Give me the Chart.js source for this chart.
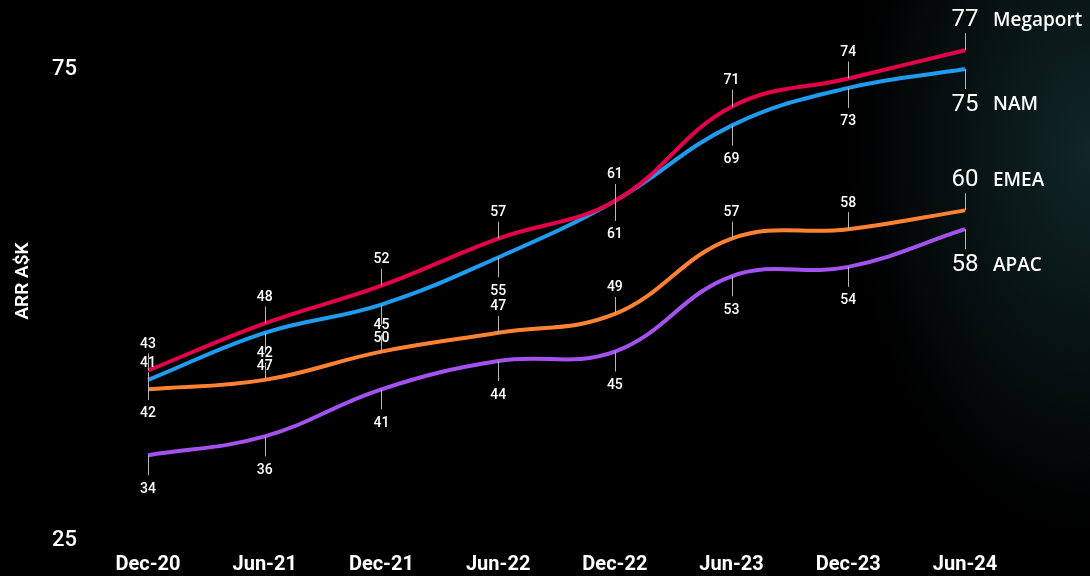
<!DOCTYPE html>
<html>
<head>
<meta charset="utf-8">
<script src="https://cdn.jsdelivr.net/npm/chart.js@4"></script>
<style>
  html, body { margin: 0; padding: 0; }
  body {
    width: 1090px; height: 576px; overflow: hidden;
    background: #000;
    background-image: radial-gradient(ellipse 240px 380px at 1090px 150px, rgba(22, 54, 56, 0.7), rgba(0, 0, 0, 0) 100%);
  }
  #wrap { position: relative; width: 1090px; height: 576px; }
</style>
</head>
<body>
<div id="wrap"><canvas id="myChart" width="1090" height="576"></canvas></div>
<script>
var periods = ['Dec-20', 'Jun-21', 'Dec-21', 'Jun-22', 'Dec-22', 'Jun-23', 'Dec-23', 'Jun-24'];
var megaport = [43, 48, 52, 57, 61, 71, 74, 77];
var nam = [42, 47, 50, 55, 61, 69, 73, 75];
var emea = [41, 42, 45, 47, 49, 57, 58, 60];
var apac = [34, 36, 41, 44, 45, 53, 54, 58];
var yTicks = [25, 75];

// label placement for each series: above or below the line
var seriesLabels = [
    { name: 'Megaport', side: 'above' },
    { name: 'NAM', side: 'below' },
    { name: 'EMEA', side: 'above' },
    { name: 'APAC', side: 'below' }
];

var pointLabels = {
    id: 'pointLabels',
    afterDatasetsDraw: function (chart) {
        var ctx = chart.ctx;
        ctx.save();
        chart.data.datasets.forEach(function (ds, i) {
            var meta = chart.getDatasetMeta(i);
            var side = seriesLabels[i].side;
            meta.data.forEach(function (pt, j) {
                var last = j === meta.data.length - 1;
                var x = pt.x, y = pt.y;
                var tickLen = side === 'above' ? 17 : 20;
                var off = last ? (side === 'above' ? 30 : 36) : (side === 'above' ? 26 : 34);
                // small tick line
                ctx.strokeStyle = '#b5b5b5';
                ctx.lineWidth = 1;
                ctx.beginPath();
                ctx.moveTo(Math.round(x) + 0.5, y);
                ctx.lineTo(Math.round(x) + 0.5, side === 'above' ? y - tickLen : y + tickLen);
                ctx.stroke();
                var ty = side === 'above' ? y - off : y + off;
                ctx.fillStyle = '#ffffff';
                ctx.textAlign = 'center';
                ctx.textBaseline = 'middle';
                if (last) {
                    ctx.font = '400 24px Roboto';
                    ctx.fillText(ds.data[j], x, ty);
                    ctx.textAlign = 'left';
                    ctx.font = '600 19px "Open Sans"';
                    ctx.fillText(seriesLabels[i].name, 993, ty);
                } else {
                    ctx.font = '500 14px Roboto';
                    ctx.fillText(ds.data[j], x, ty);
                }
            });
        });
        ctx.restore();
    }
};

var ctx = document.getElementById('myChart').getContext('2d');
var chart = new Chart(ctx, {
    type: 'line',
    data: {
        labels: periods,
        datasets: [
            { label: 'Megaport', data: megaport, borderColor: '#e5004a' },
            { label: 'NAM', data: nam, borderColor: '#1f9cf0' },
            { label: 'EMEA', data: emea, borderColor: '#ff8233' },
            { label: 'APAC', data: apac, borderColor: '#a352f0' }
        ]
    },
    options: {
        responsive: false,
        animation: false,
        layout: { padding: { top: 22, right: 125, left: 0, bottom: 0 } },
        elements: {
            line: { borderWidth: 4, tension: 0.4, fill: false },
            point: { radius: 0, hoverRadius: 0 }
        },
        plugins: {
            legend: { display: false },
            tooltip: { enabled: false }
        },
        scales: {
            x: {
                offset: false,
                grid: { display: false },
                border: { display: false },
                ticks: {
                    color: '#ffffff',
                    font: { family: 'Roboto', size: 20, weight: 'bold' },
                    padding: 5,
                    maxRotation: 0
                },
                afterFit: function (scale) {
                    scale.height = 36;
                    scale.paddingLeft = 0;
                    scale.paddingRight = 0;
                }
            },
            y: {
                min: 25,
                max: 80,
                grid: { display: false },
                border: { display: false },
                afterBuildTicks: function (scale) {
                    scale.ticks = yTicks.map(function (v) { return { value: v }; });
                },
                ticks: {
                    color: '#ffffff',
                    font: { family: 'Roboto', size: 22, weight: '500' },
                    padding: 63
                },
                title: {
                    display: true,
                    text: 'ARR A$K',
                    color: '#ffffff',
                    font: { family: 'Roboto', size: 19, weight: '600' },
                    padding: { top: 12, bottom: 0 }
                },
                afterFit: function (scale) {
                    scale.width = 148;
                    scale.paddingTop = 0;
                    scale.paddingBottom = 0;
                }
            }
        }
    },
    plugins: [pointLabels]
});
</script>
</body>
</html>
